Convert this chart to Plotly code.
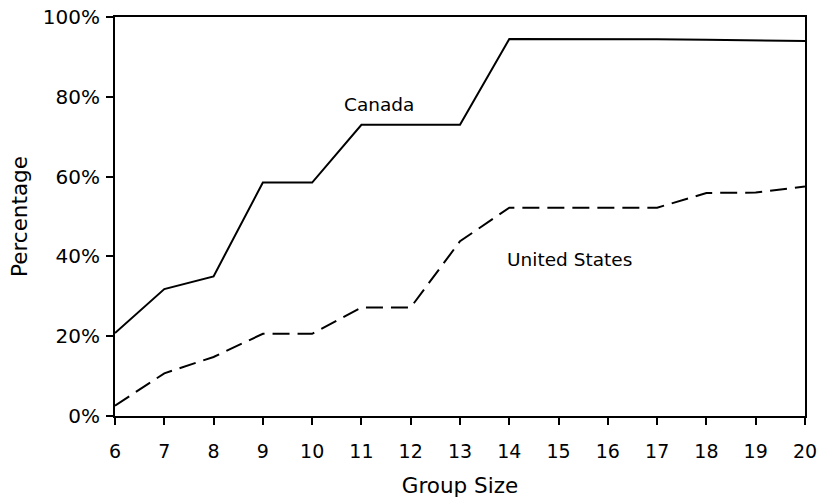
import plotly.graph_objects as go

group_size = [6, 7, 8, 9, 10, 11, 12, 13, 14, 15, 16, 17, 18, 19, 20]
canada = [20.8, 31.8, 35.0, 58.5, 58.5, 73.0, 73.0, 73.0, 94.5, 94.5, 94.4, 94.4, 94.3, 94.2, 94.0]
united_states = [2.6, 10.7, 14.8, 20.6, 20.6, 27.2, 27.2, 43.8, 52.2, 52.2, 52.2, 52.2, 55.9, 56.0, 57.5]
y_ticks = [0, 20, 40, 60, 80, 100]
y_tick_labels = ["0%", "20%", "40%", "60%", "80%", "100%"]
x_ticks = list(range(6, 21))

font = "DejaVu Sans, Liberation Sans, sans-serif"

fig = go.Figure()
fig.add_trace(go.Scatter(x=group_size, y=canada, mode="lines", name="Canada",
                         line=dict(color="black", width=2, dash="solid")))
fig.add_trace(go.Scatter(x=group_size, y=united_states, mode="lines", name="United States",
                         line=dict(color="black", width=2, dash="17px,8px")))

fig.add_annotation(x=11.36, y=78.0, text="Canada", showarrow=False,
                   font=dict(family=font, size=18.5, color="black"))
fig.add_annotation(x=15.23, y=39.2, text="United States", showarrow=False,
                   font=dict(family=font, size=18.5, color="black"))

fig.update_layout(
    width=822, height=501,
    margin=dict(l=115, r=17, t=17, b=85),
    paper_bgcolor="white", plot_bgcolor="white",
    showlegend=False,
    font=dict(family=font, size=18, color="black"),
)
fig.update_xaxes(range=[6, 20], tickvals=x_ticks, showgrid=False, zeroline=False,
                 automargin=False,
                 showline=True, linecolor="black", linewidth=2, mirror=True,
                 ticks="outside", ticklen=7, tickwidth=2, tickcolor="black",
                 ticklabelstandoff=10,
                 tickfont=dict(family=font, size=19, color="black"),
                 title=dict(text="Group Size", standoff=17,
                            font=dict(family=font, size=21.5, color="black")))
fig.update_yaxes(range=[0, 100], tickvals=y_ticks, ticktext=y_tick_labels,
                 showgrid=False, zeroline=False, automargin=False,
                 showline=True, linecolor="black", linewidth=2, mirror=True,
                 ticks="outside", ticklen=7, tickwidth=2, tickcolor="black",
                 ticklabelstandoff=2,
                 tickfont=dict(family=font, size=20, color="black"),
                 title=dict(text="Percentage", standoff=9,
                            font=dict(family=font, size=21.5, color="black")))

fig.write_html("out.html", config={"displayModeBar": False},
               post_script="document.body.style.margin='0';document.body.style.overflow='hidden';")
